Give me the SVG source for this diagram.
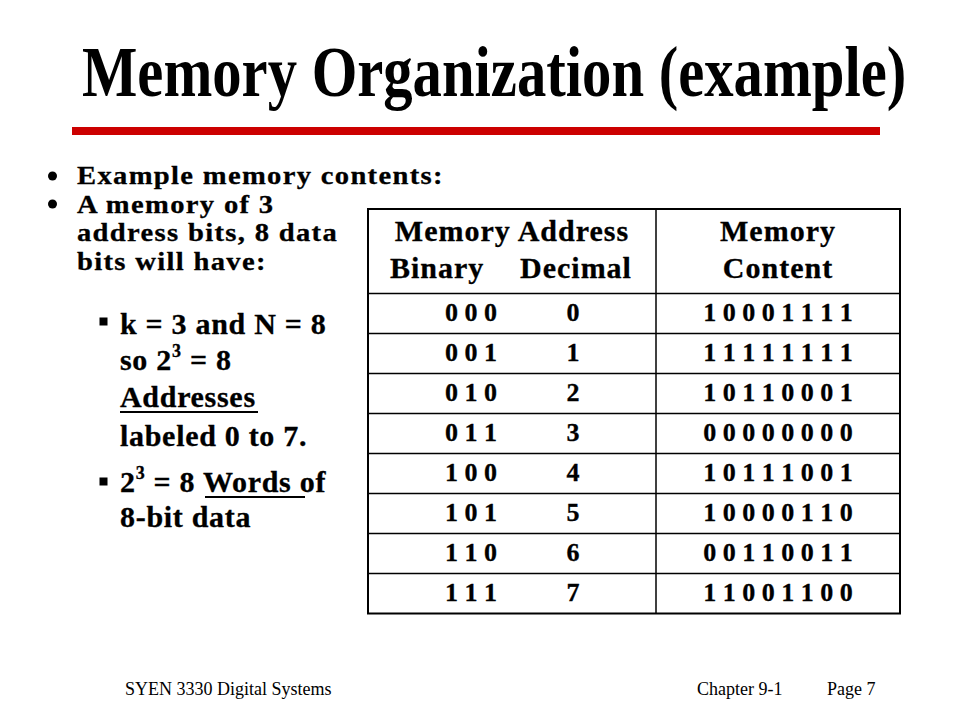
<svg xmlns="http://www.w3.org/2000/svg" width="960" height="720" viewBox="0 0 960 720">
  <style>
    .title { font-family: "Liberation Serif", "Times New Roman", serif; font-weight: bold; font-size: 72px; fill: #000; }
    .body { font-family: "Liberation Serif", "Times New Roman", serif; font-weight: bold; font-size: 30px; letter-spacing: 0.7px; fill: #000; stroke: #000; stroke-width: 0.3; }
    .body1 { font-family: "Liberation Serif", "Times New Roman", serif; font-weight: bold; font-size: 26px; letter-spacing: 1.2px; fill: #000; stroke: #000; stroke-width: 0.3; }
    .sup { font-size: 18px; }
    .hdr { font-family: "Liberation Serif", "Times New Roman", serif; font-weight: bold; font-size: 30px; letter-spacing: 1px; fill: #000; stroke: #000; stroke-width: 0.3; }
    .cell { font-family: "Liberation Serif", "Times New Roman", serif; font-weight: bold; font-size: 26px; fill: #000; stroke: #000; stroke-width: 0.3; text-anchor: middle; }
    .foot { font-family: "Liberation Serif", "Times New Roman", serif; font-size: 18px; fill: #000; }
    .grid { stroke: #000; stroke-width: 1.5; fill: none; }
    .uline { stroke: #000; stroke-width: 2; }
  </style>
  <rect width="960" height="720" fill="#fff"/>

  <g id="title">
    <text class="title" transform="translate(82 96) scale(0.815 1)">Memory Organization (example)</text>
  </g>
  <g id="rule">
    <rect x="72" y="127" width="808" height="8" fill="#cc0000"/>
  </g>

  <g id="bullets">
    <circle cx="52.5" cy="176" r="4.5" fill="#000"/>
    <circle cx="52.5" cy="204" r="4.5" fill="#000"/>
    <text class="body1" transform="translate(77 0) scale(1.1 1)">
      <tspan x="0" y="184.5">Example memory contents:</tspan>
      <tspan x="0" y="213">A memory of 3</tspan>
      <tspan x="0" y="241.5">address bits, 8 data</tspan>
      <tspan x="0" y="270">bits will have:</tspan>
    </text>

    <rect x="99.5" y="317.5" width="8" height="8" fill="#000"/>
    <rect x="99.5" y="477.5" width="8" height="8" fill="#000"/>
    <text class="body">
      <tspan x="120" y="334">k = 3 and N = 8</tspan>
      <tspan x="120" y="370">so 2<tspan class="sup" dy="-13">3</tspan><tspan dy="13"> = 8</tspan></tspan>
      <tspan x="120" y="407">Addresses</tspan>
      <tspan x="120" y="446">labeled 0 to 7.</tspan>
      <tspan x="120" y="492">2<tspan class="sup" dy="-13">3</tspan><tspan dy="13"> = 8 Words of</tspan></tspan>
      <tspan x="120" y="527">8-bit data</tspan>
    </text>
    <line class="uline" x1="120" y1="412" x2="258" y2="412"/>
    <line class="uline" x1="205" y1="497" x2="305" y2="497"/>
  </g>

  <g id="table">
    <g id="table-grid">
      <rect x="368" y="209" width="532" height="404.5" fill="none" stroke="#000" stroke-width="2"/>
      <line class="grid" x1="656" y1="209" x2="656" y2="613.5"/>
      <line class="grid" x1="368" y1="293.5" x2="900" y2="293.5"/>
      <line class="grid" x1="368" y1="333.5" x2="900" y2="333.5"/>
      <line class="grid" x1="368" y1="373.5" x2="900" y2="373.5"/>
      <line class="grid" x1="368" y1="413.5" x2="900" y2="413.5"/>
      <line class="grid" x1="368" y1="453.5" x2="900" y2="453.5"/>
      <line class="grid" x1="368" y1="493.5" x2="900" y2="493.5"/>
      <line class="grid" x1="368" y1="533.5" x2="900" y2="533.5"/>
      <line class="grid" x1="368" y1="573.5" x2="900" y2="573.5"/>
    </g>
    <g id="table-header">
      <text class="hdr" x="512" y="241" text-anchor="middle">Memory Address</text>
      <text class="hdr" x="390" y="278">Binary</text>
      <text class="hdr" x="520" y="278">Decimal</text>
      <text class="hdr" x="778" y="241" text-anchor="middle">Memory</text>
      <text class="hdr" x="778" y="278" text-anchor="middle">Content</text>
    </g>
    <g id="row-0"><text class="cell" x="471" y="321">0 0 0</text><text class="cell" x="573" y="321">0</text><text class="cell" x="778" y="321">1 0 0 0 1 1 1 1</text></g>
    <g id="row-1"><text class="cell" x="471" y="361">0 0 1</text><text class="cell" x="573" y="361">1</text><text class="cell" x="778" y="361">1 1 1 1 1 1 1 1</text></g>
    <g id="row-2"><text class="cell" x="471" y="401">0 1 0</text><text class="cell" x="573" y="401">2</text><text class="cell" x="778" y="401">1 0 1 1 0 0 0 1</text></g>
    <g id="row-3"><text class="cell" x="471" y="441">0 1 1</text><text class="cell" x="573" y="441">3</text><text class="cell" x="778" y="441">0 0 0 0 0 0 0 0</text></g>
    <g id="row-4"><text class="cell" x="471" y="481">1 0 0</text><text class="cell" x="573" y="481">4</text><text class="cell" x="778" y="481">1 0 1 1 1 0 0 1</text></g>
    <g id="row-5"><text class="cell" x="471" y="521">1 0 1</text><text class="cell" x="573" y="521">5</text><text class="cell" x="778" y="521">1 0 0 0 0 1 1 0</text></g>
    <g id="row-6"><text class="cell" x="471" y="561">1 1 0</text><text class="cell" x="573" y="561">6</text><text class="cell" x="778" y="561">0 0 1 1 0 0 1 1</text></g>
    <g id="row-7"><text class="cell" x="471" y="601">1 1 1</text><text class="cell" x="573" y="601">7</text><text class="cell" x="778" y="601">1 1 0 0 1 1 0 0</text></g>
  </g>

  <g id="connectors"></g>

  <g id="footer">
    <text class="foot" x="125" y="695">SYEN 3330 Digital Systems</text>
    <text class="foot" x="697" y="695">Chapter 9-1</text>
    <text class="foot" x="827" y="695">Page 7</text>
  </g>
</svg>
